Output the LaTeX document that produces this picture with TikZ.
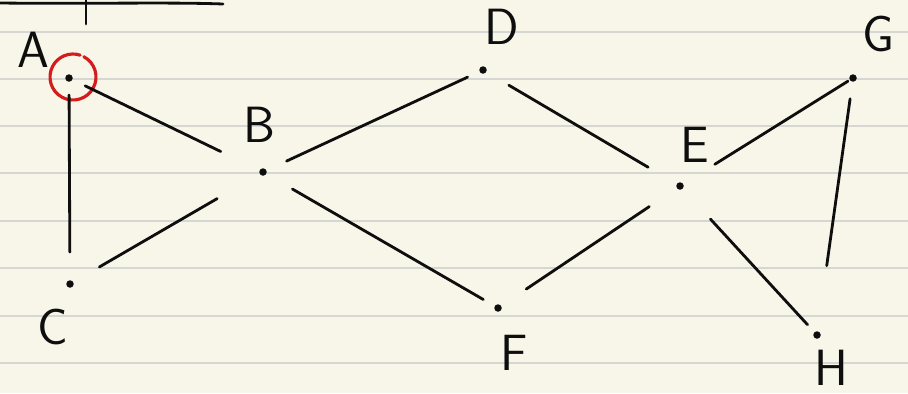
\documentclass[tikz,border=0pt]{standalone}
\usepackage{xcolor}
\usetikzlibrary{calc}
\definecolor{paper}{RGB}{248,246,233}
\definecolor{ruling}{RGB}{214,214,210}
\definecolor{ink}{RGB}{14,14,14}
\definecolor{penred}{RGB}{212,28,28}

\begin{document}
\begin{tikzpicture}[
  x=0.02cm, y=-0.02cm,
  vertex/.style={circle, fill=ink, inner sep=0pt, minimum size=1.5mm},
  letter/.style={font=\fontsize{29}{29}\selectfont\sffamily, text=ink, inner sep=0pt},
  link/.style={draw=ink, line width=1.6pt, line cap=round},
  ruleline/.style={draw=ruling, line width=0.7pt}
]
% paper and ruling
\fill[paper] (0,0) rectangle (908,393);
\useasboundingbox (0,0) rectangle (908,393);
\foreach \y in {32,79,126,173,221,268,316,363}
  \draw[ruleline] (0,\y) -- (908,\y);

% strokes left over at the top
\draw[link] (0,3) .. controls (90,4) and (170,2) .. (223,4);
\draw[link] (86,0) -- (86,24);

% vertices
\node[vertex] (A) at (69,78) {};
\node[vertex] (B) at (263,172) {};
\node[vertex] (C) at (70,284) {};
\node[vertex] (D) at (483,70) {};
\node[vertex] (E) at (680,186) {};
\node[vertex] (F) at (498,308) {};
\node[vertex] (G) at (853,78) {};
\node[vertex] (H) at (817,335) {};

% labels
\node[letter] (lA) at (33,50) {A};
\node[letter] (lB) at (259,125) {B};
\node[letter] (lC) at (53,327) {C};
\node[letter] (lD) at (502,27) {D};
\node[letter] (lE) at (695,145) {E};
\node[letter] (lF) at (514,353) {F};
\node[letter] (lG) at (878,34) {G};
\node[letter] (lH) at (831,368) {H};

% red ring round A
\draw[penred, line width=1.8pt, line cap=round] ($(A)+(4,-1)$) ++(-62:23) arc[start angle=-62, end angle=288, radius=23];

% edges
\draw[link, shorten <=3.6mm, shorten >=9.4mm] (A.center) -- (B.center);
\draw[link, shorten <=3.4mm, shorten >=6.4mm] (A.center) -- (C.center);
\draw[link, shorten <=6.8mm, shorten >=10.6mm] (C.center) -- (B.center);
\draw[link, shorten <=5.2mm, shorten >=3.4mm] (B.center) -- (D.center);
\draw[link, shorten <=6.8mm, shorten >=3.4mm] (B.center) -- (F.center);
\draw[link, shorten <=6mm, shorten >=7.4mm] (D.center) -- (E.center);
\draw[link, shorten <=6.8mm, shorten >=7.4mm] (F.center) -- (E.center);
\draw[link, shorten <=8.2mm, shorten >=1.2mm] (E.center) -- (G.center);
\draw[link, shorten <=9mm, shorten >=2.8mm] (E.center) -- (H.center);
\draw[link, shorten <=4.2mm, shorten >=14mm] (G.center) -- (H.center);
\end{tikzpicture}
\end{document}
